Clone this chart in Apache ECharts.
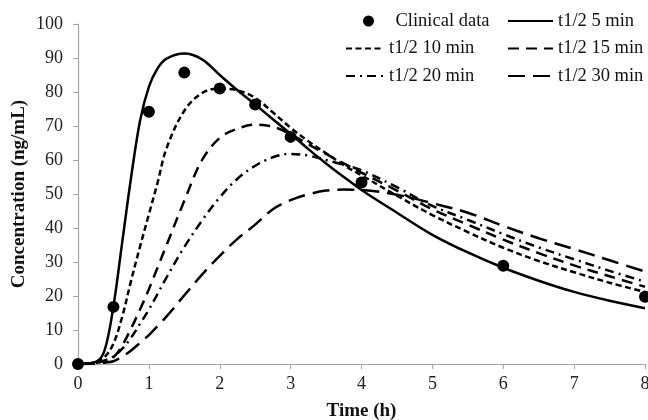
<!DOCTYPE html>
<html>
<head>
<meta charset="utf-8">
<script src="https://cdn.jsdelivr.net/npm/echarts@6/dist/echarts.min.js"></script>
<style>html,body{margin:0;padding:0;background:#fff}#c{width:648px;height:420px}</style>
</head>
<body>
<div id="c"></div>
<script>
// Clinical observations
var clinicalT = [0, 0.5, 1, 1.5, 2, 2.5, 3, 4, 6, 8];
var clinicalC = [0, 16.8, 74.2, 85.7, 81, 76.3, 66.8, 53.4, 28.9, 19.8];

// Simulation time grid (h)
var simT = [0, 0.25, 0.375, 0.5, 0.625, 0.75, 0.875, 1, 1.125, 1.25, 1.5, 1.75, 2, 2.25, 2.5, 2.75, 3, 3.25, 3.5, 3.75, 4, 4.5, 5, 5.5, 6, 6.5, 7, 7.5, 8];

// Simulated concentration (ng/mL) per half-life
var c5min  = [0, 0.6, 4, 17, 36, 55, 71.5, 81.5, 87, 89.8, 91.3, 89.6, 85, 80.5, 76.3, 72, 67.7, 63.2, 59, 55, 51.2, 44.5, 38, 32.8, 28.3, 24.5, 21.2, 18.6, 16.4];
var c10min = [0, 0.5, 2, 6, 14, 24.6, 34.5, 44, 53.5, 63.5, 74.5, 79.7, 81, 80.5, 78.3, 74, 69.5, 65.5, 62, 58.5, 55.5, 49.5, 43.8, 38.8, 34.2, 30.3, 27, 23.9, 21.2];
var c15min = [0, 0.3, 1, 2, 5.5, 10.5, 16, 22, 28.5, 35, 48, 60, 66.5, 69.2, 70.4, 69.8, 67.6, 64.6, 61.8, 59, 56.3, 51, 45.5, 41, 36.6, 32.6, 29, 25.8, 22.7];
var c20min = [0, 0.3, 1, 2.2, 4.5, 7.8, 11.8, 16, 20.7, 25.5, 34.4, 42.2, 49, 54.5, 58.3, 60.8, 61.8, 61.3, 60, 58.6, 57, 52, 46.5, 42.4, 38.2, 34.3, 30.8, 27.4, 24.2];
var c30min = [0, 0.1, 0.4, 0.8, 2.2, 4, 6.2, 8.5, 11.2, 14, 20.2, 26.3, 31.8, 36.8, 41, 45.5, 48.2, 49.9, 51, 51.3, 51.2, 49.8, 47.3, 44.5, 40.6, 37, 33.8, 30.5, 27.2];

// Axis ticks
var xTicks = [0, 1, 2, 3, 4, 5, 6, 7, 8];
var yTicks = [0, 10, 20, 30, 40, 50, 60, 70, 80, 90, 100];

var FONT = "'Liberation Serif','Times New Roman',serif";
function pairs(xs, ys) { return xs.map(function (x, i) { return [x, ys[i]]; }); }
function lineSeries(name, ys, dash) {
  return {
    name: name, type: 'line', data: pairs(simT, ys), smooth: 0.35,
    showSymbol: false, symbol: 'none', z: 2,
    lineStyle: { color: '#000', width: 2.5, type: dash, cap: 'butt' },
    itemStyle: { color: '#000' }
  };
}
var legendText = { fontFamily: FONT, fontSize: 18.5, color: '#111', lineHeight: 22 };
var hiddenMarker = { color: 'rgba(0,0,0,0)', borderColor: 'rgba(0,0,0,0)', borderWidth: 0 };

var chart = echarts.init(document.getElementById('c'), null, { renderer: 'canvas' });
chart.setOption({
  animation: false,
  backgroundColor: '#fff',
  grid: { left: 78, right: 3, top: 24, bottom: 56, containLabel: false, outerBoundsMode: 'none' },
  legend: [
    { data: [{ name: 'Clinical data', icon: 'circle' }], left: 363, top: 10, padding: 0, itemWidth: 44, itemHeight: 11, textStyle: legendText },
    { data: ['t1/2 10 min', 't1/2 20 min'], orient: 'vertical', left: 345, top: 37.5, padding: 0, itemGap: 5.5, itemWidth: 38, itemHeight: 12, itemStyle: hiddenMarker, textStyle: legendText },
    { data: ['t1/2 5 min', 't1/2 15 min', 't1/2 30 min'], orient: 'vertical', left: 507, top: 10, padding: 0, itemGap: 5.5, itemWidth: 45, itemHeight: 12, itemStyle: hiddenMarker, textStyle: legendText }
  ],
  xAxis: {
    type: 'value', min: xTicks[0], max: xTicks[xTicks.length - 1], interval: 1,
    name: 'Time (h)', nameLocation: 'middle', nameGap: 38, nameMoveOverlap: false,
    nameTextStyle: { fontFamily: FONT, fontSize: 19, fontWeight: 'bold', color: '#111' },
    axisLine: { lineStyle: { color: '#a6a6a6', width: 1.2 } },
    axisTick: { show: true, length: 5, lineStyle: { color: '#a6a6a6' } },
    axisLabel: { fontFamily: FONT, fontSize: 18, color: '#222', margin: 11 },
    splitLine: { show: false }
  },
  yAxis: {
    type: 'value', min: yTicks[0], max: yTicks[yTicks.length - 1], interval: 10,
    name: 'Concentration (ng/mL)', nameLocation: 'middle', nameGap: 49, nameMoveOverlap: false,
    nameTextStyle: { fontFamily: FONT, fontSize: 19, fontWeight: 'bold', color: '#111' },
    axisLine: { show: true, lineStyle: { color: '#a6a6a6', width: 1.2 } },
    axisTick: { show: true, length: 5, lineStyle: { color: '#a6a6a6' } },
    axisLabel: { fontFamily: FONT, fontSize: 18, color: '#222', margin: 15 },
    splitLine: { show: false }
  },
  series: [
    { name: 'Clinical data', type: 'scatter', data: pairs(clinicalT, clinicalC), symbol: 'circle', symbolSize: 12, clip: false, z: 5, itemStyle: { color: '#000', opacity: 1 } },
    lineSeries('t1/2 5 min', c5min, 'solid'),
    lineSeries('t1/2 10 min', c10min, [6, 3.5]),
    lineSeries('t1/2 15 min', c15min, [11, 7]),
    lineSeries('t1/2 20 min', c20min, [9, 5, 2, 5]),
    lineSeries('t1/2 30 min', c30min, [17, 8])
  ]
});
</script>
</body>
</html>
